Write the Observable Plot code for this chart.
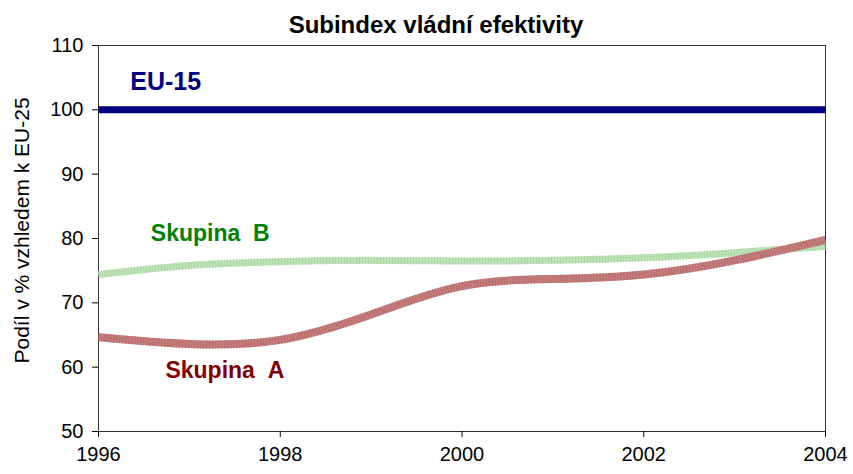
<!DOCTYPE html>
<html><head><meta charset="utf-8">
<script src="https://cdn.jsdelivr.net/npm/d3@7"></script>
<script src="https://cdn.jsdelivr.net/npm/@observablehq/plot@0.6"></script>
<style>body{margin:0;background:#fff}</style>
</head><body><div id="chart"></div>
<script>
const years = [1996, 1997, 1998, 1999, 2000, 2001, 2002, 2003, 2004];
const eu15 = [100, 100, 100, 100, 100, 100, 100, 100, 100];
const skupinaA = [64.65, 63.6, 64.25, 68.2, 72.6, 73.7, 74.4, 76.6, 79.8];
const skupinaB = [74.4, 75.8, 76.4, 76.6, 76.5, 76.6, 77.0, 77.8, 78.8];
const xTicks = [1996, 1998, 2000, 2002, 2004];
const yTicks = [50, 60, 70, 80, 90, 100, 110];
const title = "Subindex vládní efektivity";
const yLabel = "Podíl v % vzhledem k EU-25";
const seriesNames = ["EU-15", "Skupina\u00a0\u00a0B", "Skupina\u00a0\u00a0A"];

const rows = (vals) => years.map((x, i) => ({x, y: vals[i]}));
const dataEU = rows(eu15), dataA = rows(skupinaA), dataB = rows(skupinaB);

const chart = Plot.plot({
  width: 853, height: 474,
  marginLeft: 98, marginRight: 28, marginTop: 45, marginBottom: 43,
  style: {fontFamily: "'Liberation Sans', Arial, sans-serif", fontSize: "20px", color: "#000", background: "#fff"},
  x: {domain: [1996, 2004]},
  y: {domain: [50, 110]},
  marks: [
    Plot.frame({stroke: "#333"}),
    Plot.axisY({ticks: yTicks, tickSize: 6, tickPadding: 9, label: null, fontSize: 20}),
    Plot.axisX({ticks: xTicks, tickSize: 6, tickPadding: 9, tickFormat: d => String(d), label: null, fontSize: 20}),
    Plot.line(dataB, {x: "x", y: "y", stroke: "#bfe3b8", strokeWidth: 7, curve: "natural", strokeLinecap: "butt"}),
    Plot.line(dataB, {x: "x", y: "y", stroke: "#a9d6a2", strokeWidth: 7, curve: "natural", strokeLinecap: "butt", strokeDasharray: "1 2"}),
    Plot.line(dataA, {x: "x", y: "y", stroke: "#c47d7d", strokeWidth: 8, curve: "natural", strokeLinecap: "butt"}),
    Plot.line(dataA, {x: "x", y: "y", stroke: "#b86b6b", strokeWidth: 8, curve: "natural", strokeLinecap: "butt", strokeDasharray: "1 2"}),
    Plot.line(dataEU, {x: "x", y: "y", stroke: "#000080", strokeWidth: 7, strokeLinecap: "butt"}),
    Plot.text([seriesNames[0]], {x: () => 1996.74, y: () => 104.3, text: d => d, fill: "#000080", fontWeight: "bold", fontSize: 25}),
    Plot.text([seriesNames[1]], {x: () => 1997.23, y: () => 80.8, text: d => d, fill: "#008000", fontWeight: "bold", fontSize: 23}),
    Plot.text([seriesNames[2]], {x: () => 1997.39, y: () => 59.5, text: d => d, fill: "#800000", fontWeight: "bold", fontSize: 23}),
    Plot.text([title], {frameAnchor: "top", lineAnchor: "middle", dx: -26, dy: -20, text: d => d, fontWeight: "bold", fontSize: 24}),
    Plot.text([yLabel], {frameAnchor: "left", textAnchor: "middle", dx: -76, dy: -8, rotate: -90, text: d => d, fontSize: 21})
  ]
});
document.getElementById("chart").appendChild(chart);
</script>
</body></html>
